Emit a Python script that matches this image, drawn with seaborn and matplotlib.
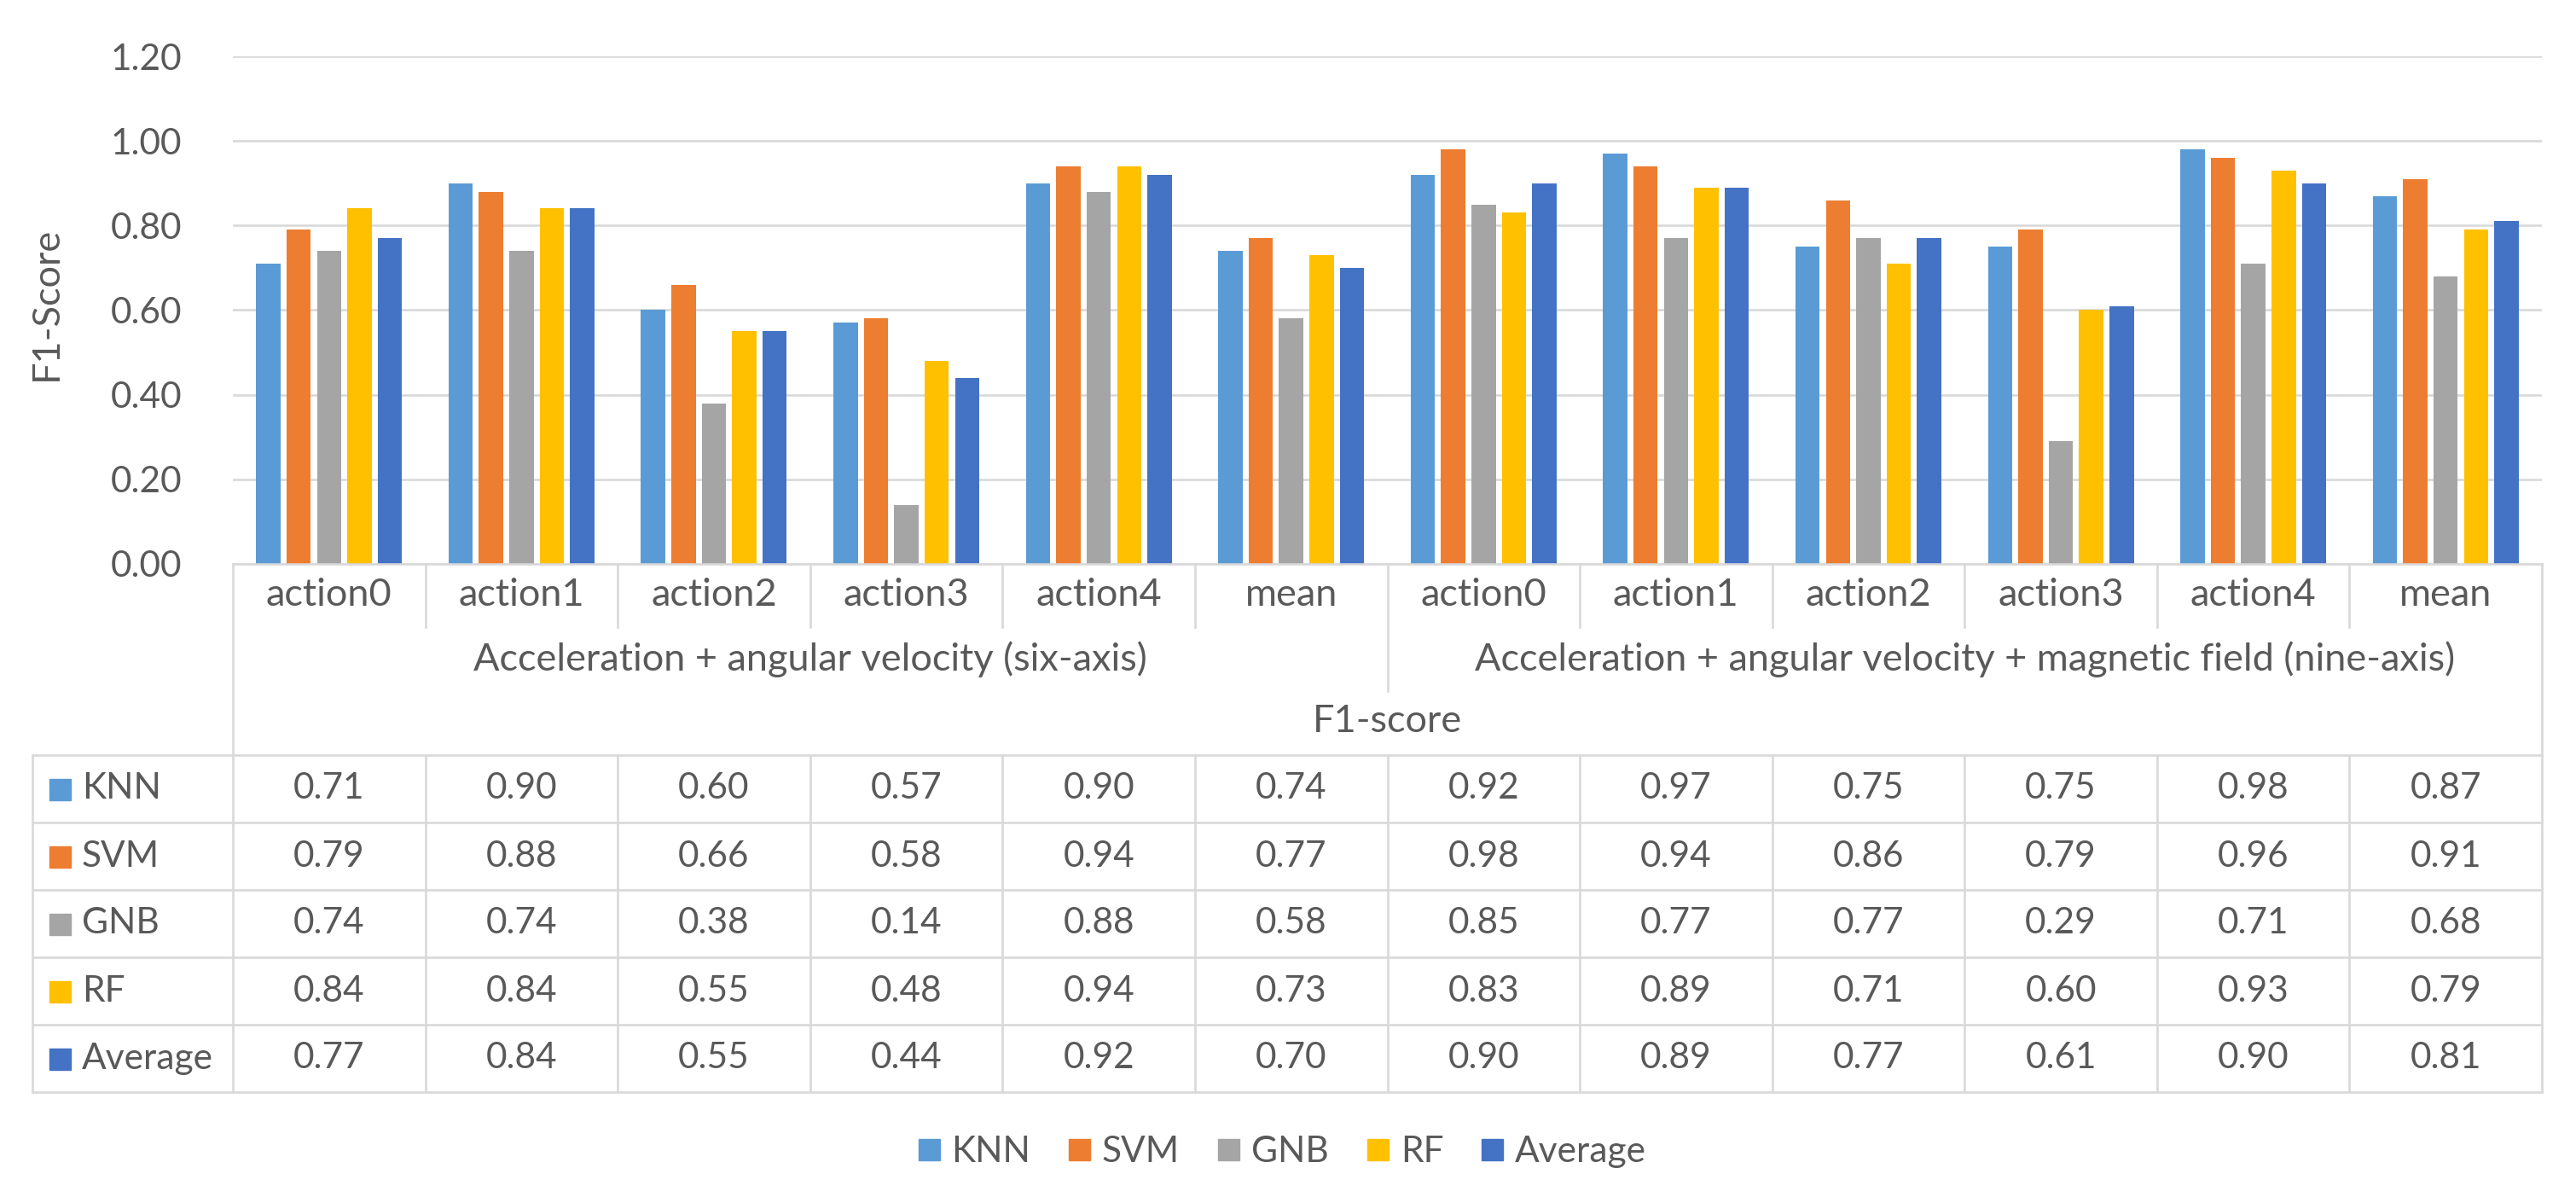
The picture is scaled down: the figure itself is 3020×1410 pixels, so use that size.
import pandas as pd
import matplotlib.pyplot as plt
import seaborn as sns
from matplotlib import transforms
from matplotlib.lines import Line2D

# data
actions = ["action0", "action1", "action2", "action3", "action4", "mean"]
groups = ["Acceleration + angular velocity (six-axis)",
          "Acceleration + angular velocity + magnetic field (nine-axis)"]
models = ["KNN", "SVM", "GNB", "RF", "Average"]
knn = [0.71, 0.90, 0.60, 0.57, 0.90, 0.74, 0.92, 0.97, 0.75, 0.75, 0.98, 0.87]
svm = [0.79, 0.88, 0.66, 0.58, 0.94, 0.77, 0.98, 0.94, 0.86, 0.79, 0.96, 0.91]
gnb = [0.74, 0.74, 0.38, 0.14, 0.88, 0.58, 0.85, 0.77, 0.77, 0.29, 0.71, 0.68]
rf = [0.84, 0.84, 0.55, 0.48, 0.94, 0.73, 0.83, 0.89, 0.71, 0.60, 0.93, 0.79]
avg = [0.77, 0.84, 0.55, 0.44, 0.92, 0.70, 0.90, 0.89, 0.77, 0.61, 0.90, 0.81]
colors = ["#5B9BD5", "#ED7D31", "#A5A5A5", "#FFC000", "#4472C4"]
yticks = [0.0, 0.2, 0.4, 0.6, 0.8, 1.0, 1.2]

series = [knn, svm, gnb, rf, avg]
keys = [f"{g}|{a}" for g in range(len(groups)) for a in actions]
df = pd.DataFrame({
    "key": keys * len(models),
    "model": [m for m in models for _ in keys],
    "value": [v for s in series for v in s],
})

plt.rcParams['font.family'] = ['Lato', 'DejaVu Sans']
txt = "#595959"
grid = "#D9D9D9"
fs = 30.5      # numbers, model names
fs_w = 32.5    # lower-case words in the axis table

W, H = 3020, 1410
fig = plt.figure(figsize=(W / 100, H / 100), dpi=100)
ax = fig.add_axes([273 / W, 1 - 661 / H, (2980 - 273) / W, (661 - 66) / H])

sns.barplot(data=df, x="key", y="value", hue="model", order=keys, hue_order=models,
            palette=colors, saturation=1, width=0.79, gap=0.2, linewidth=0,
            legend=False, ax=ax)

ax.set_xlim(-0.5, len(keys) - 0.5)
ax.set_ylim(0, 1.2)
ax.set_yticks(yticks, [f"{t:.2f}" for t in yticks])
ax.set_xticks([])
ax.set_xlabel("")
ax.set_ylabel("")
ax.tick_params(axis="y", length=0, pad=43, labelsize=fs, labelcolor=txt)
ax.yaxis.grid(True, color=grid, lw=1.9)
ax.set_axisbelow(True)
for s in ["top", "right", "left"]:
    ax.spines[s].set_visible(False)
ax.spines["bottom"].set_color(grid)
ax.spines["bottom"].set_linewidth(1.9)

fig.text(54 / W, 1 - 356 / H, "F1-Score", rotation=90, ha="center", va="center",
         fontsize=fs_w, color=txt)

# ── table under the axis ───────────────────────────
fy = lambda y: 1 - y / H
tr = transforms.blended_transform_factory(ax.transData, fig.transFigure)


def line(xs, ys, trans):
    fig.add_artist(Line2D(xs, ys, transform=trans, color=grid, lw=1.9))


n = len(keys)
for i in range(n + 1):
    x = i - 0.5
    if i in (0, n):
        line([x, x], [fy(661), fy(1280)], tr)
    else:
        line([x, x], [fy(661), fy(810 if i == len(actions) else 735)], tr)
        line([x, x], [fy(885), fy(1280)], tr)

row_lines = [885, 964, 1043, 1122, 1201, 1280]
for y in row_lines:
    line([38 / W, 2980 / W], [fy(y), fy(y)], fig.transFigure)
line([38 / W, 38 / W], [fy(885), fy(1280)], fig.transFigure)

for i, k in enumerate(keys):
    ax.text(i, fy(698), k.split("|")[1], transform=tr, ha="center", va="center",
            fontsize=fs_w, color=txt)
for g, name in enumerate(groups):
    c = g * len(actions) + (len(actions) - 1) / 2
    ax.text(c, fy(773), name, transform=tr, ha="center", va="center",
            fontsize=fs_w, color=txt)
ax.text((n - 1) / 2, fy(845), "F1-score", transform=tr, ha="center", va="center",
        fontsize=fs_w, color=txt)

for r, (m, s, c) in enumerate(zip(models, series, colors)):
    yc = (row_lines[r] + row_lines[r + 1]) / 2
    fig.add_artist(Line2D([70 / W], [fy(yc)], transform=fig.transFigure, marker="s",
                          markersize=18, color=c, linestyle=""))
    fig.text(96 / W, fy(yc), m, ha="left", va="center", fontsize=fs, color=txt)
    for i, v in enumerate(s):
        ax.text(i, fy(yc), f"{v:.2f}", transform=tr, ha="center", va="center",
                fontsize=fs, color=txt)

handles = [Line2D([], [], marker="s", markersize=18, color=c, linestyle="") for c in colors]
fig.legend(handles, models, loc="center", bbox_to_anchor=(1503 / W, 1 - 1350 / H),
           ncol=5, frameon=False, fontsize=fs, labelcolor=txt, handlelength=0.6,
           handletextpad=0.33, columnspacing=1.05)

fig.savefig("out.png", dpi=100)
